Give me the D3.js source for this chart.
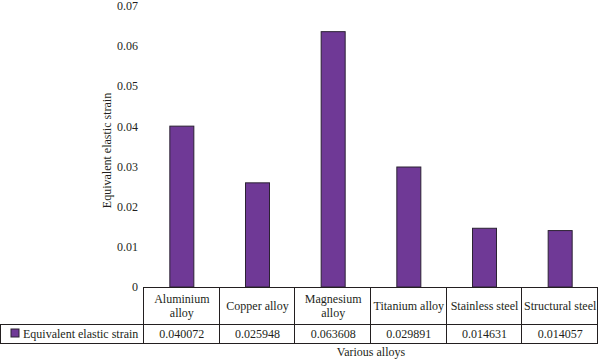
<!DOCTYPE html>
<meta charset="utf-8">
<script src="https://d3js.org/d3.v7.min.js"></script>
<style>
  body { margin: 0; background: #fff; }
  text { font-family: "Liberation Serif", "DejaVu Serif", serif; fill: #231f20; }
</style>
<body>
<script>

// chart values
var alloys = [["Aluminium", "alloy"], ["Copper alloy"], ["Magnesium", "alloy"], ["Titanium alloy"], ["Stainless steel"], ["Structural steel"]];
var strain = [0.040072, 0.025948, 0.063608, 0.029891, 0.014631, 0.014057];
var strainLabels = ["0.040072", "0.025948", "0.063608", "0.029891", "0.014631", "0.014057"];
var yTicks = [0, 0.01, 0.02, 0.03, 0.04, 0.05, 0.06, 0.07];
var seriesName = "Equivalent elastic strain";

var width = 600, height = 362;
var left = 144, right = 598, yTop = 6, base = 287;

var svg = d3.select("body").append("svg")
    .attr("width", width)
    .attr("height", height);

var x = d3.scaleBand()
    .domain(d3.range(strain.length))
    .range([left, right]);

var y = d3.scaleLinear()
    .domain([0, 0.07])
    .range([base, yTop]);

// y tick labels, no axis line
svg.append("g")
    .selectAll("text")
    .data(yTicks)
    .enter().append("text")
    .attr("x", 138)
    .attr("y", function(d) { return y(d); })
    .attr("dy", "0.35em")
    .attr("text-anchor", "end")
    .style("font-size", "12px")
    .text(function(d) { return d === 0 ? "0" : d3.format(".2f")(d); });

svg.append("text")
    .attr("transform", "translate(111," + ((yTop + base) / 2 + 4) + ") rotate(-90)")
    .attr("text-anchor", "middle")
    .style("font-size", "12px")
    .text(seriesName);

// bars
var bw = 24;
svg.append("g")
    .selectAll("rect")
    .data(strain)
    .enter().append("rect")
    .attr("x", function(d, i) { return x(i) + x.bandwidth() / 2 - bw / 2; })
    .attr("y", function(d) { return y(d); })
    .attr("width", bw)
    .attr("height", function(d) { return base - y(d); })
    .style("fill", "#6f3996")
    .style("stroke", "#2b2233")
    .style("stroke-width", 1);

// data table under the chart
var rowMid = 324, rowBot = 343;
var tbl = svg.append("g").style("stroke", "#231f20").style("stroke-width", 1).style("fill", "none");
tbl.append("line").attr("x1", left).attr("x2", right).attr("y1", base + 0.5).attr("y2", base + 0.5);
tbl.append("line").attr("x1", 0).attr("x2", right).attr("y1", rowMid + 0.5).attr("y2", rowMid + 0.5);
tbl.append("line").attr("x1", 0).attr("x2", right).attr("y1", rowBot + 0.5).attr("y2", rowBot + 0.5);
tbl.append("line").attr("x1", 0.5).attr("x2", 0.5).attr("y1", rowMid).attr("y2", rowBot + 1);
tbl.selectAll(".vl")
    .data(d3.range(strain.length + 1))
    .enter().append("line")
    .attr("x1", function(i) { return Math.round(left + i * x.bandwidth()) - 0.5; })
    .attr("x2", function(i) { return Math.round(left + i * x.bandwidth()) - 0.5; })
    .attr("y1", base)
    .attr("y2", rowBot + 1);

// header labels
var hdr = svg.append("g")
    .selectAll("text")
    .data(alloys)
    .enter().append("text")
    .attr("text-anchor", "middle")
    .style("font-size", "12px")
    .attr("y", function(d) { return d.length > 1 ? base + 16 : (base + rowMid) / 2 + 4; });
hdr.selectAll("tspan")
    .data(function(d, i) { return d.map(function(s) { return { s: s, i: i }; }); })
    .enter().append("tspan")
    .attr("x", function(d) { return x(d.i) + x.bandwidth() / 2; })
    .attr("dy", function(d, j) { return j ? 14 : 0; })
    .text(function(d) { return d.s; });

// value row
svg.append("g")
    .selectAll("text")
    .data(strainLabels)
    .enter().append("text")
    .attr("x", function(d, i) { return x(i) + x.bandwidth() / 2; })
    .attr("y", (rowMid + rowBot) / 2 + 4)
    .attr("text-anchor", "middle")
    .style("font-size", "12px")
    .text(function(d) { return d; });

// legend cell
svg.append("rect")
    .attr("x", 11).attr("y", 329)
    .attr("width", 8).attr("height", 8)
    .style("fill", "#6f3996")
    .style("stroke", "#2b2233");
svg.append("text")
    .attr("x", 23)
    .attr("y", (rowMid + rowBot) / 2 + 4)
    .style("font-size", "12px")
    .text(seriesName);

svg.append("text")
    .attr("x", (left + right) / 2)
    .attr("y", 356)
    .attr("text-anchor", "middle")
    .style("font-size", "12px")
    .text("Various alloys");

</script>
</body>
